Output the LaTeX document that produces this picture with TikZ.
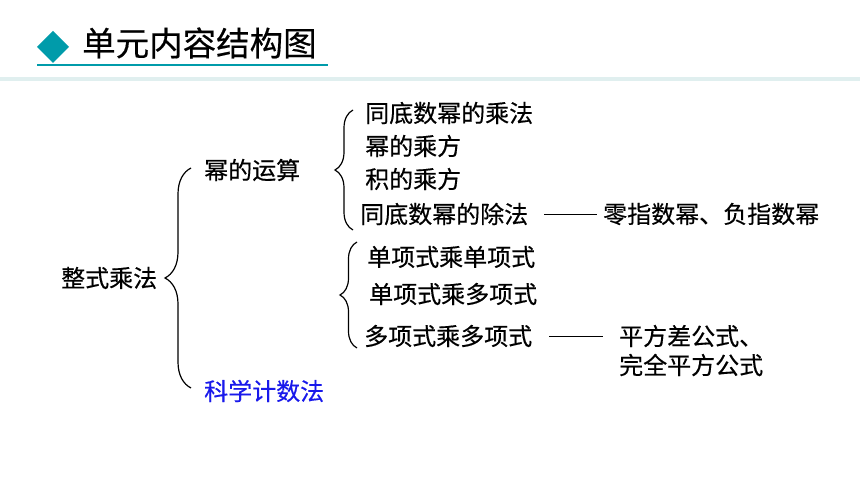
\documentclass[tikz,border=0pt]{standalone}
\usepackage{fontspec}
\newfontfamily\cjk[BoldFont={Noto Sans CJK SC}, BoldFeatures={FakeBold=0.4}]{Noto Sans CJK SC}
\usetikzlibrary{decorations.pathreplacing}
\definecolor{titleteal}{RGB}{0,155,170}
\definecolor{bandgray}{RGB}{224,239,239}
\definecolor{sciblue}{RGB}{25,25,235}
\begin{document}
\begin{tikzpicture}[x=1pt, y=-1pt,
	every node/.style={inner sep=0pt, anchor=west, font=\cjk\bfseries\fontsize{24}{28}\selectfont},
	curly/.style={decorate, decoration={brace, amplitude=#1}, line width=1.2pt},
	dashline/.style={line width=1pt}]
\useasboundingbox (0,0) rectangle (860,484);
% title
\fill[bandgray] (0,77) rectangle (860,81);
\fill[titleteal] (53,31) -- (69,47) -- (53,63) -- (37,47) -- cycle;
\node[font=\cjk\bfseries\fontsize{33.5}{38}\selectfont] (title) at (82,43) {单元内容结构图};
\draw[titleteal, line width=2.5pt] (37,65) -- (328,65);
% tree
\node (whole) at (61,278) {整式乘法};
\node (power) at (204,170) {幂的运算};
\node[text=sciblue] (sci) at (204,391) {科学计数法};
\node (samemul) at (365,113) {同底数幂的乘法};
\node (powpow) at (365,146) {幂的乘方};
\node (prodpow) at (365,179) {积的乘方};
\node (samediv) at (360,214) {同底数幂的除法};
\node (zeroexp) at (603,214) {零指数幂、负指数幂};
\node (mono) at (367,257) {单项式乘单项式};
\node (monopoly) at (369,294) {单项式乘多项式};
\node (polypoly) at (364,336) {多项式乘多项式};
\node (sqdiff) at (619,336) {平方差公式、};
\node (sqfull) at (619,365) {完全平方公式};
\draw[curly=26pt] (191,388) -- (191,168);
\draw[curly=18pt] (353,230) -- (353,110);
\draw[curly=17pt] (357,348) -- (357,242);
\draw[dashline, shorten <=16pt, shorten >=6pt] (samediv.east) -- (zeroexp.west);
\draw[dashline, shorten <=17pt, shorten >=16pt] (polypoly.east) -- (sqdiff.west);
\end{tikzpicture}
\end{document}
